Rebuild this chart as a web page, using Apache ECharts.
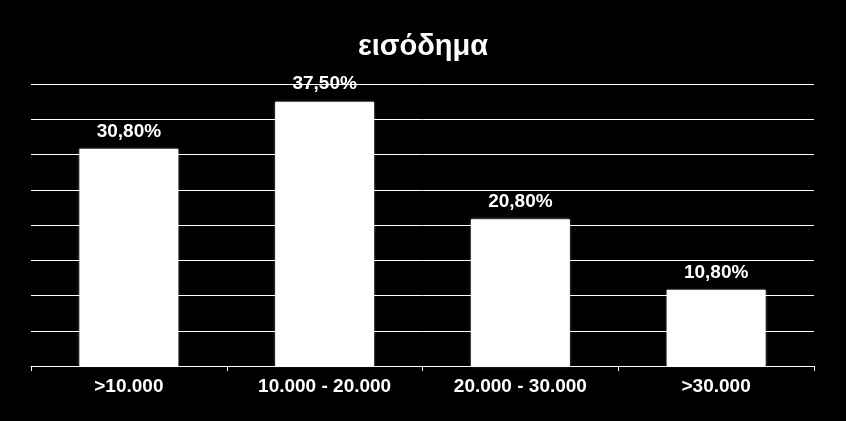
<!DOCTYPE html>
<html><head><meta charset="utf-8">
<script src="https://cdn.jsdelivr.net/npm/echarts@6/dist/echarts.min.js"></script>
<style>html,body{margin:0;padding:0;background:#000;}#c{width:846px;height:421px;}</style>
</head><body><div id="c"></div>
<script>
const title = 'εισόδημα';
const categories = ['>10.000', '10.000 - 20.000', '20.000 - 30.000', '>30.000'];
const values = [30.8, 37.5, 20.8, 10.8];
const labels = ['30,80%', '37,50%', '20,80%', '10,80%'];

const chart = echarts.init(document.getElementById('c'));
chart.setOption({
  backgroundColor: '#000',
  animation: false,
  title: {
    text: title, left: 'center', top: 27,
    textStyle: { color: '#fff', fontFamily: 'Liberation Sans', fontWeight: 'bold', fontSize: 29 }
  },
  grid: { left: 31, right: 32, top: 84, bottom: 55, containLabel: false },
  xAxis: {
    type: 'category', data: categories,
    axisLine: { lineStyle: { color: '#fff', width: 1 } },
    axisTick: { show: true, length: 5, lineStyle: { color: '#fff' } },
    axisLabel: { color: '#fff', fontFamily: 'Liberation Sans', fontWeight: 'bold', fontSize: 19, margin: 11 }
  },
  yAxis: {
    type: 'value', min: 0, max: 40, interval: 5,
    axisLabel: { show: false }, axisLine: { show: false }, axisTick: { show: false },
    splitLine: { lineStyle: { color: '#fff', width: 1 } }
  },
  series: [{
    type: 'bar', data: values, barWidth: 99,
    itemStyle: { color: '#fff', shadowColor: 'rgba(255,255,255,0.5)', shadowBlur: 3 },
    label: {
      show: true, position: 'top', distance: 8,
      formatter: p => labels[p.dataIndex],
      color: '#fff', fontFamily: 'Liberation Sans', fontWeight: 'bold', fontSize: 19
    }
  }]
});
</script></body></html>
